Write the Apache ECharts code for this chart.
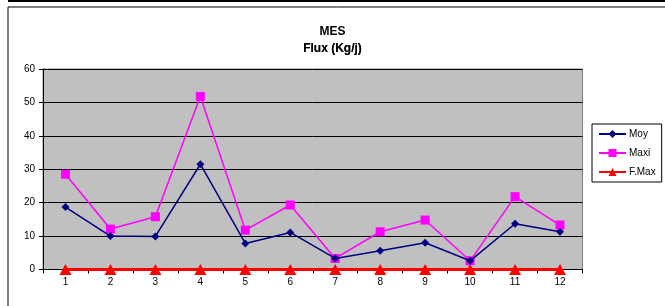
<!DOCTYPE html>
<html>
<head>
<meta charset="utf-8">
<script src="https://cdn.jsdelivr.net/npm/echarts@6/dist/echarts.min.js"></script>
<style>
  html, body { margin: 0; padding: 0; background: #fff; }
  #chart { width: 665px; height: 306px; }
</style>
</head>
<body>
<div id="chart"></div>
<script>
// mois
const months = ['1', '2', '3', '4', '5', '6', '7', '8', '9', '10', '11', '12'];
// flux MES (Kg/j)
const moy = [18.7, 10.0, 9.9, 31.5, 7.8, 11.1, 3.3, 5.6, 8.0, 2.6, 13.7, 11.3];
const maxi = [28.5, 12.1, 15.8, 51.8, 11.8, 19.3, 3.3, 11.3, 14.8, 2.6, 21.8, 13.3];
const fmax = [0, 0, 0, 0, 0, 0, 0, 0, 0, 0, 0, 0];

let myChart = echarts.init(document.getElementById('chart'));
const titleFont = { fontSize: 12, fontWeight: 'bold', color: '#000' };
myChart.setOption({
  animation: false,
  textStyle: { fontFamily: 'Liberation Sans, Arial, sans-serif' },
  title: [
    { text: 'MES', left: 'center', top: 21, textStyle: titleFont },
    // sous-titre "doublé" comme dans l'original
    { text: 'Flux (Kg/j)', left: 'center', top: 38, padding: [5, 7, 5, 5], textStyle: Object.assign({}, titleFont, { color: 'rgba(0,0,0,0.75)' }) },
    { text: 'Flux (Kg/j)', left: 'center', top: 38, padding: [5, 5, 5, 7], textStyle: titleFont }
  ],
  graphic: [
    // cadre du graphique
    { type: 'line', shape: { x1: 8, y1: 1, x2: 665, y2: 1 }, style: { stroke: '#000', lineWidth: 2 } },
    { type: 'line', shape: { x1: 8, y1: 7, x2: 665, y2: 7 }, style: { stroke: '#000', lineWidth: 1 } },
    { type: 'line', shape: { x1: 8, y1: 7, x2: 8, y2: 306 }, style: { stroke: '#000', lineWidth: 1 } }
  ],
  legend: {
    orient: 'vertical',
    left: 592,
    top: 124,
    padding: [5, 6, 5, 6],
    borderColor: '#000',
    borderWidth: 1,
    itemWidth: 27,
    itemHeight: 10,
    itemGap: 9,
    textStyle: { fontSize: 10, color: '#000', padding: [0, 0, 0, -2] },
    data: ['Moy', 'Maxi', 'F.Max']
  },
  grid: {
    left: 43,
    right: 82.5,
    top: 69,
    bottom: 36.5,
    show: true,
    backgroundColor: '#C0C0C0',
    borderColor: '#808080',
    borderWidth: 1,
    containLabel: false
  },
  xAxis: {
    type: 'category',
    data: months,
    boundaryGap: true,
    axisLine: { lineStyle: { color: '#000', width: 1 } },
    axisTick: { show: true, length: 4, lineStyle: { color: '#000' } },
    axisLabel: { fontSize: 10, color: '#000', margin: 8 },
    splitLine: { show: false }
  },
  yAxis: {
    type: 'value',
    min: 0,
    max: 60,
    interval: 10,
    axisLine: { show: true, lineStyle: { color: '#000', width: 1 } },
    axisTick: { show: true, length: 4, lineStyle: { color: '#000' } },
    axisLabel: { fontSize: 10, color: '#000', margin: 8 },
    splitLine: { show: true, lineStyle: { color: '#000', width: 1 } }
  },
  series: [
    {
      name: 'F.Max',
      type: 'line',
      data: fmax,
      symbol: 'triangle',
      symbolSize: [12, 11],
      itemStyle: { color: '#FF0000' },
      lineStyle: { color: '#FF0000', width: 3 },
      z: 2
    },
    {
      name: 'Maxi',
      type: 'line',
      data: maxi,
      symbol: 'rect',
      symbolSize: 9,
      itemStyle: { color: '#FF00FF' },
      lineStyle: { color: '#FF00FF', width: 1.5 },
      z: 3
    },
    {
      name: 'Moy',
      type: 'line',
      data: moy,
      symbol: 'diamond',
      symbolSize: 8,
      itemStyle: { color: '#000080' },
      lineStyle: { color: '#000080', width: 1.5 },
      z: 4
    }
  ]
});
</script>
</body>
</html>
